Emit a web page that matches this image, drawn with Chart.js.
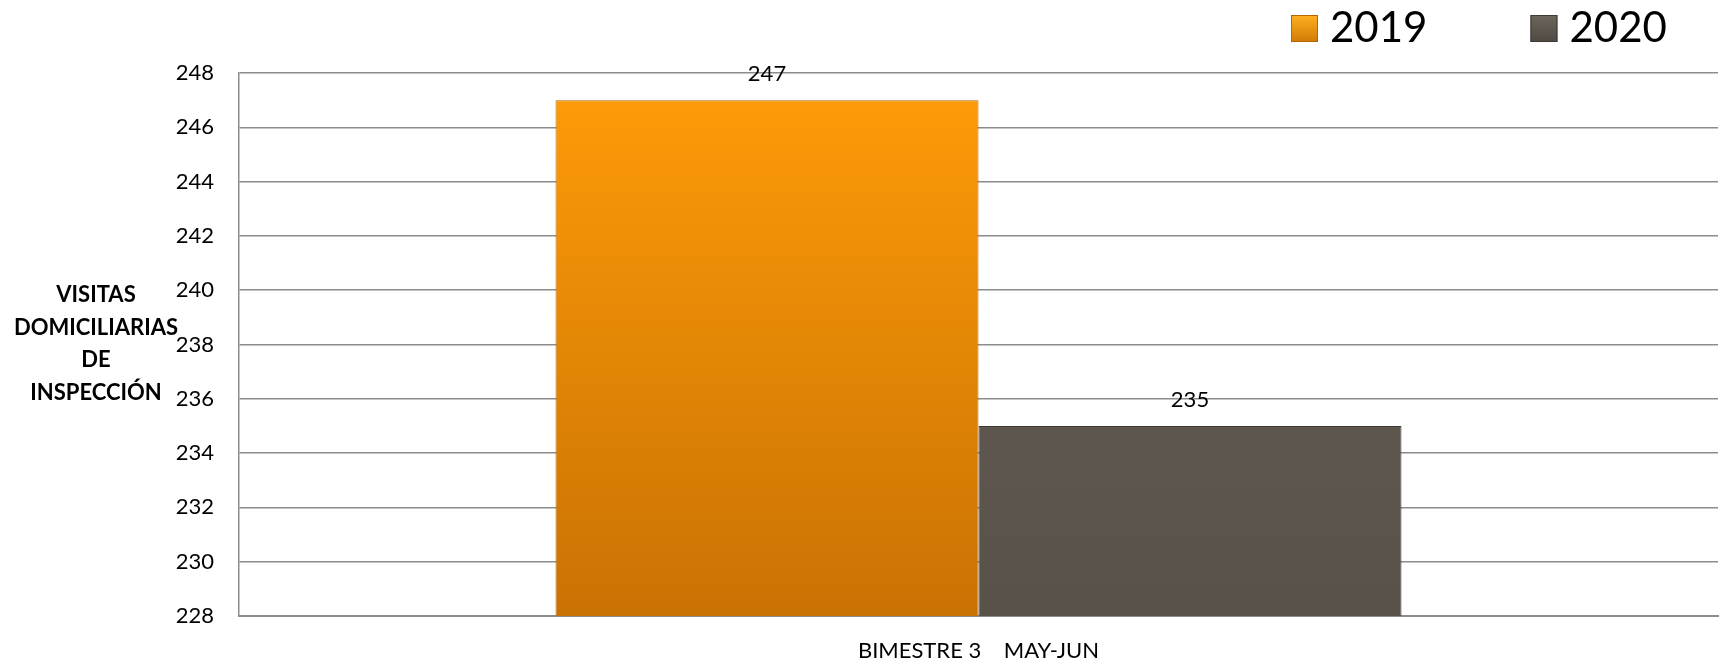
<!DOCTYPE html>
<html>
<head>
<meta charset="utf-8">
<script src="https://cdn.jsdelivr.net/npm/chart.js@4.4.1/dist/chart.umd.min.js"></script>
<style>
  html, body { margin: 0; padding: 0; background: #fff; }
  #wrap { width: 1721px; height: 664px; position: relative; }
</style>
</head>
<body>
<div id="wrap"><canvas id="visitasChart"></canvas></div>
<script>
// datos
const categorias = ['BIMESTRE 3    MAY-JUN'];
const series = ['2019', '2020'];
const valores2019 = [247];
const valores2020 = [235];
const ticksY = [228, 230, 232, 234, 236, 238, 240, 242, 244, 246, 248];
const tituloY = ['VISITAS', 'DOMICILIARIAS', 'DE', 'INSPECCIÓN'];

const FUENTE = 'Lato, "Open Sans", sans-serif';

function gradiente(top, bottom) {
    return function(context) {
        const area = context.chart.chartArea;
        if (!area) return top;
        const g = context.chart.ctx.createLinearGradient(0, area.top, 0, area.bottom);
        g.addColorStop(0, top);
        g.addColorStop(1, bottom);
        return g;
    };
}

// titulo del eje Y horizontal, a la izquierda
const tituloEjeY = {
    id: 'tituloEjeY',
    afterDraw(chart) {
        const c = chart.ctx;
        c.save();
        c.font = 'bold 22px ' + FUENTE;
        c.fillStyle = '#000';
        c.textAlign = 'center';
        c.textBaseline = 'middle';
        tituloY.forEach((t, i) => c.fillText(t, 96, 295 + i * 32.7));
        c.restore();
    }
};

// leyenda arriba a la derecha
const leyenda = {
    id: 'leyenda',
    afterDraw(chart) {
        const c = chart.ctx;
        c.save();
        c.font = '42px ' + FUENTE;
        c.textBaseline = 'middle';
        let x = 1291;
        chart.data.datasets.forEach(ds => {
            const g = c.createLinearGradient(0, 15, 0, 42);
            g.addColorStop(0, ds.legendTop);
            g.addColorStop(1, ds.legendBottom);
            c.fillStyle = g;
            c.fillRect(x, 15, 27, 27);
            c.strokeStyle = ds.borderColor;
            c.lineWidth = 1;
            c.strokeRect(x + 0.5, 15.5, 26, 26);
            c.fillStyle = '#000';
            c.fillText(ds.label, x + 39, 28);
            x += 39 + c.measureText(ds.label).width + 103;
        });
        c.restore();
    }
};

// etiquetas de valor sobre cada barra
const etiquetas = {
    id: 'etiquetas',
    afterDatasetsDraw(chart) {
        const c = chart.ctx;
        c.save();
        c.font = '22px ' + FUENTE;
        c.fillStyle = '#000';
        c.textAlign = 'center';
        c.textBaseline = 'middle';
        chart.data.datasets.forEach((ds, i) => {
            chart.getDatasetMeta(i).data.forEach((bar, j) => {
                c.fillText(ds.data[j], bar.x, bar.y - 26);
            });
        });
        c.restore();
    }
};

new Chart(document.getElementById('visitasChart').getContext('2d'), {
    type: 'bar',
    data: {
        labels: categorias,
        datasets: [{
            label: series[0],
            data: valores2019,
            backgroundColor: gradiente('#FF9C08', '#C97204'),
            borderColor: '#B66600',
            borderWidth: 1,
            legendTop: '#FFB020',
            legendBottom: '#D27A05'
        }, {
            label: series[1],
            data: valores2020,
            backgroundColor: gradiente('#675F56', '#59524A'),
            borderColor: '#3F3A34',
            borderWidth: 1,
            legendTop: '#6E665C',
            legendBottom: '#4F4942'
        }]
    },
    options: {
        responsive: true,
        maintainAspectRatio: false,
        animation: false,
        layout: { padding: { top: 73, right: 3, left: 0, bottom: 0 } },
        datasets: {
            bar: { categoryPercentage: 0.572, barPercentage: 1 }
        },
        plugins: {
            legend: { display: false },
            tooltip: { enabled: false }
        },
        scales: {
            y: {
                min: 228,
                max: 248,
                afterBuildTicks: scale => { scale.ticks = ticksY.map(v => ({ value: v })); },
                afterFit: scale => { scale.width = 239; },
                ticks: { padding: 25, color: '#000', font: { family: FUENTE, size: 22 } },
                grid: { color: '#8C8C8C', lineWidth: 1.5, drawTicks: false },
                border: { color: '#8C8C8C', width: 1.5 }
            },
            x: {
                afterFit: scale => { scale.height = 48; },
                ticks: { padding: 14, color: '#000', font: { family: FUENTE, size: 22 } },
                grid: { display: false },
                border: { color: '#8C8C8C', width: 2 }
            }
        }
    },
    plugins: [tituloEjeY, leyenda, etiquetas]
});
</script>
</body>
</html>
